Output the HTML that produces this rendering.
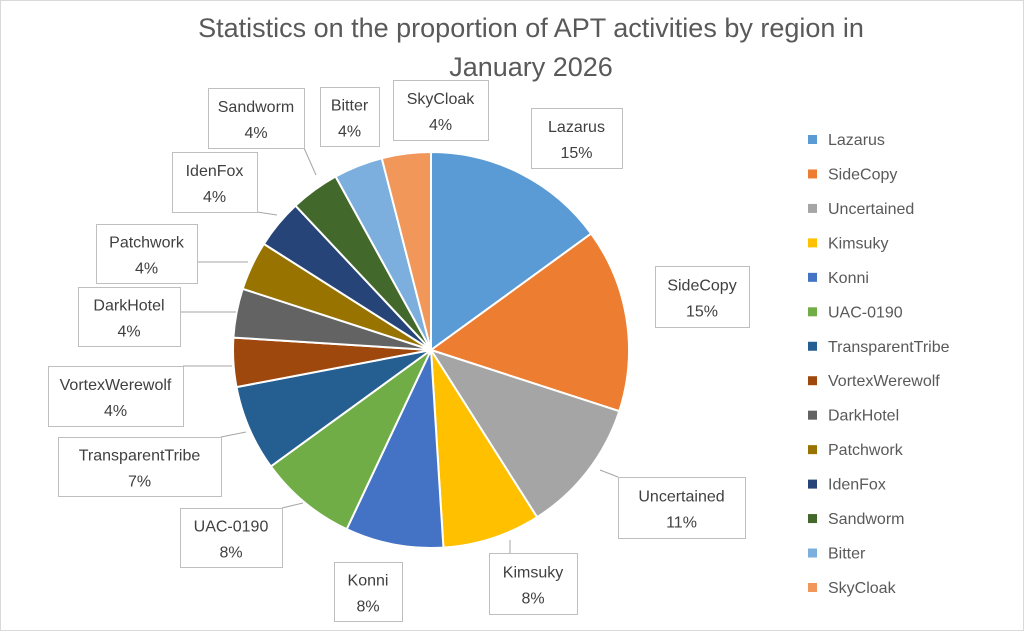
<!DOCTYPE html>
<html><head><meta charset="utf-8"><style>
html,body{margin:0;padding:0;background:#fff}
svg{display:block;font-family:"Liberation Sans",sans-serif}
</style></head><body>
<svg id="s" width="1024" height="631" xmlns="http://www.w3.org/2000/svg">
<rect x="0.5" y="0.5" width="1023" height="630" fill="#fff" stroke="#d9d9d9"/>
<text x="531" y="37" text-anchor="middle" font-size="27" fill="#595959">Statistics on the proportion of APT activities by region in</text>
<text x="531" y="76" text-anchor="middle" font-size="27" fill="#595959">January 2026</text>
<g id="pie"></g>
<g id="lab"></g>
<g id="leg"></g>
</svg>
<script>
var d=[["Lazarus",15,"#5B9BD5"],["SideCopy",15,"#ED7D31"],["Uncertained",11,"#A5A5A5"],["Kimsuky",8,"#FFC000"],["Konni",8,"#4472C4"],["UAC-0190",8,"#70AD47"],["TransparentTribe",7,"#255E91"],["VortexWerewolf",4,"#9E480E"],["DarkHotel",4,"#636363"],["Patchwork",4,"#997300"],["IdenFox",4,"#264478"],["Sandworm",4,"#43682B"],["Bitter",4,"#7CAFDD"],["SkyCloak",4,"#F1975A"]];
var NS="http://www.w3.org/2000/svg",cx=431,cy=350,r=198,a=0,h="";
d.forEach(function(e){var a1=a+e[1]/100*2*Math.PI;
var x0=cx+r*Math.sin(a),y0=cy-r*Math.cos(a),x1=cx+r*Math.sin(a1),y1=cy-r*Math.cos(a1);
h+='<path d="M'+cx+','+cy+'L'+x0+','+y0+'A'+r+','+r+' 0 '+((a1-a)>Math.PI?1:0)+' 1 '+x1+','+y1+'Z" fill="'+e[2]+'" stroke="#fff" stroke-width="2"/>';a=a1;});
document.getElementById("pie").innerHTML=h;
var L=[[531,108,91,60,null],[655,266,94,61,null],[618,477,127,61,[600,470]],[489,553,88,61,[510,540]],[334,562,68,59,null],[180,508,102,59,[303,503]],[58,437,163,59,[246,432]],[48,366,135,60,[232,366]],[78,287,102,59,[236,312]],[96,224,101,59,[248,262]],[172,152,85,60,[277,215]],[208,88,96,60,[316,175]],[320,87,59,59,null],[393,80,95,60,null]];
h="";
L.forEach(function(b,i){var x=b[0],y=b[1],w=b[2],hh=b[3],p=b[4];
if(p){var bx=Math.max(x,Math.min(p[0],x+w)),by=Math.max(y,Math.min(p[1],y+hh));h+='<line x1="'+p[0]+'" y1="'+p[1]+'" x2="'+bx+'" y2="'+by+'" stroke="#a6a6a6"/>';}
h+='<rect x="'+(x+.5)+'" y="'+(y+.5)+'" width="'+w+'" height="'+hh+'" fill="#fff" stroke="#bfbfbf"/>';
h+='<text x="'+(x+w/2)+'" y="'+(y+hh/2-6)+'" text-anchor="middle" font-size="16" fill="#404040">'+d[i][0]+'</text>';
h+='<text x="'+(x+w/2)+'" y="'+(y+hh/2+20)+'" text-anchor="middle" font-size="16" fill="#404040">'+d[i][1]+'%</text>';});
document.getElementById("lab").innerHTML=h;
h="";
d.forEach(function(e,i){var y=140+i*34.46;
h+='<rect x="808" y="'+(y-5)+'" width="9" height="9" fill="'+e[2]+'"/>';
h+='<text x="828" y="'+(y+5)+'" font-size="16" fill="#595959">'+e[0]+'</text>';});
document.getElementById("leg").innerHTML=h;
</script>
</body></html>
